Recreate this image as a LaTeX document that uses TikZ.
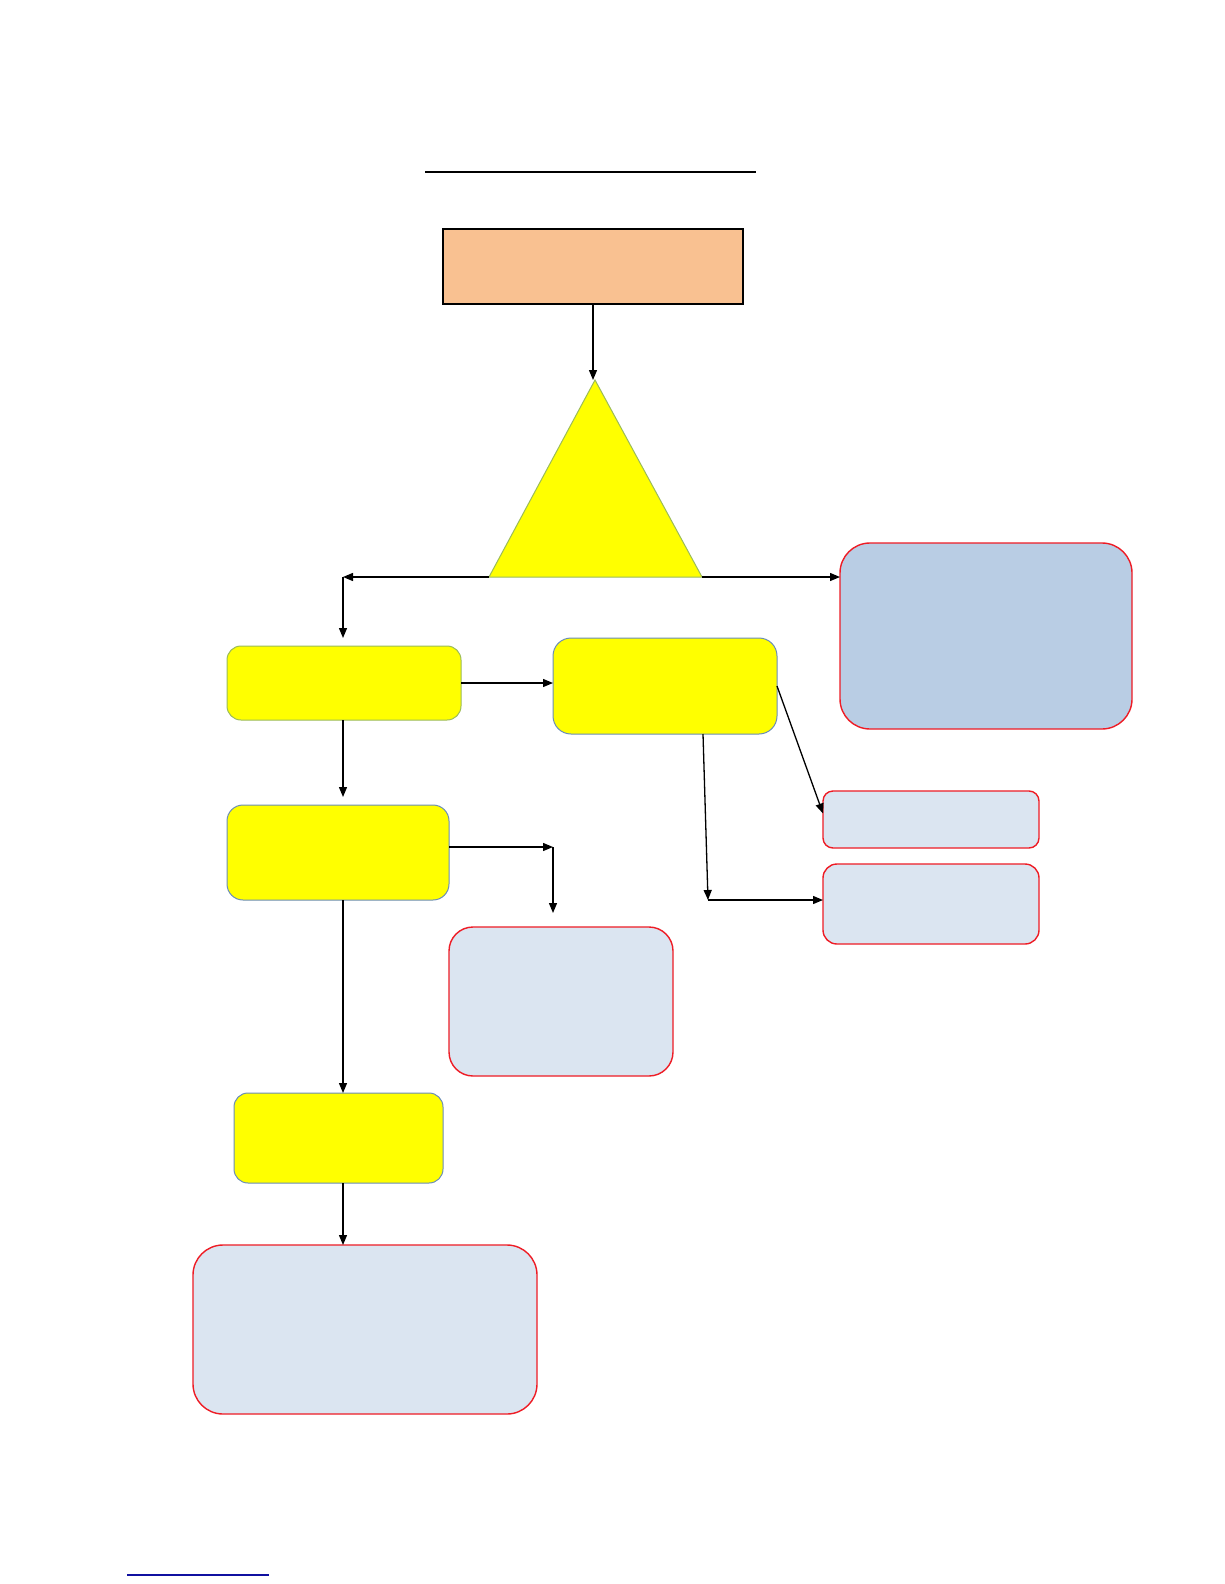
\documentclass[tikz,border=0pt]{standalone}
\usetikzlibrary{arrows.meta,calc}
\definecolor{boxorange}{HTML}{F9C191}
\definecolor{yel}{HTML}{FFFF00}
\definecolor{grnedge}{HTML}{9BBB59}
\definecolor{bluedge}{HTML}{6A8DB8}
\definecolor{redge}{HTML}{EE1C25}
\definecolor{lightfill}{HTML}{DBE5F1}
\definecolor{midfill}{HTML}{B9CDE4}
\definecolor{linkblue}{HTML}{1010A0}
\begin{document}
\begin{tikzpicture}[x=1pt,y=-1pt,
  base/.style={rectangle,anchor=north west,inner sep=0pt,outer sep=0pt},
  topbox/.style={base,draw=black,line width=1.6pt,fill=boxorange},
  ybox/.style={base,draw=bluedge,line width=1pt,fill=yel},
  gbox/.style={base,draw=grnedge,line width=1pt,fill=yel},
  rbox/.style={base,draw=redge,line width=1.4pt,fill=lightfill},
  conn/.style={draw=black,line width=1.3pt,-{Triangle[length=10pt,width=8pt]}},
  plain/.style={draw=black,line width=1.3pt}]
\useasboundingbox (0,0) rectangle (1224,1584);
\fill[white] (0,0) rectangle (1224,1584);
% title rule
\coordinate (t1) at (425,172);
\coordinate (t2) at (756,172);
\draw[line width=2pt] (t1) -- (t2);
% nodes
\node[topbox,minimum width=300pt,minimum height=75pt] (top) at (443,229) {};
\node[gbox,rounded corners=14pt,minimum width=234pt,minimum height=74pt] (A) at (227,646) {};
\node[ybox,rounded corners=18pt,minimum width=224pt,minimum height=96pt] (B) at (553,638) {};
\node[rbox,fill=midfill,rounded corners=30pt,minimum width=292pt,minimum height=186pt] (big) at (840,543) {};
\node[rbox,rounded corners=10pt,minimum width=216pt,minimum height=57pt] (C) at (823,791) {};
\node[rbox,rounded corners=14pt,minimum width=216pt,minimum height=80pt] (D) at (823,864) {};
\node[ybox,rounded corners=16pt,minimum width=222pt,minimum height=95pt] (E) at (227,805) {};
\node[rbox,rounded corners=24pt,minimum width=224pt,minimum height=149pt] (F) at (449,927) {};
\node[ybox,rounded corners=14pt,minimum width=209pt,minimum height=90pt] (G) at (234,1093) {};
\node[rbox,rounded corners=30pt,minimum width=344pt,minimum height=169pt] (H) at (193,1245) {};
% triangle
\coordinate (apex) at (595,380);
\coordinate (bl) at (489,577);
\coordinate (br) at (702,577);
\filldraw[fill=yel,draw=grnedge,line width=1pt] (apex) -- (bl) -- (br) -- cycle;
% junctions
\coordinate (jL) at (343,577);
\coordinate (jF) at (553,847);
\coordinate (jD) at (708,900);
\coordinate (bs) at (703,734);
% connectors
\draw[conn] (top.south) -- (top.south |- apex);
\draw[conn] (bl) -- (jL);
\draw[conn,shorten >=8pt] (jL) -- (jL |- A.north);
\draw[conn] (br) -- (br -| big.west);
\draw[conn] (A.east) -- (A.east -| B.west);
\draw[conn] (B.east) -- ($(C.west)+(0,-6)$);
\draw[conn] (bs) -- (jD);
\draw[conn] (jD) -- (jD -| D.west);
\draw[conn,shorten >=8pt] (jL |- A.south) -- (jL |- E.north);
\draw[conn] (E.east |- jF) -- (jF);
\draw[conn,shorten >=14pt] (jF) -- (jF |- F.north);
\draw[conn] (jL |- E.south) -- (jL |- G.north);
\draw[conn] (jL |- G.south) -- (jL |- H.north);
% bottom link rule
\coordinate (u1) at (127,1575);
\coordinate (u2) at (269,1575);
\draw[linkblue,line width=1.3pt] (u1) -- (u2);
\end{tikzpicture}
\end{document}
